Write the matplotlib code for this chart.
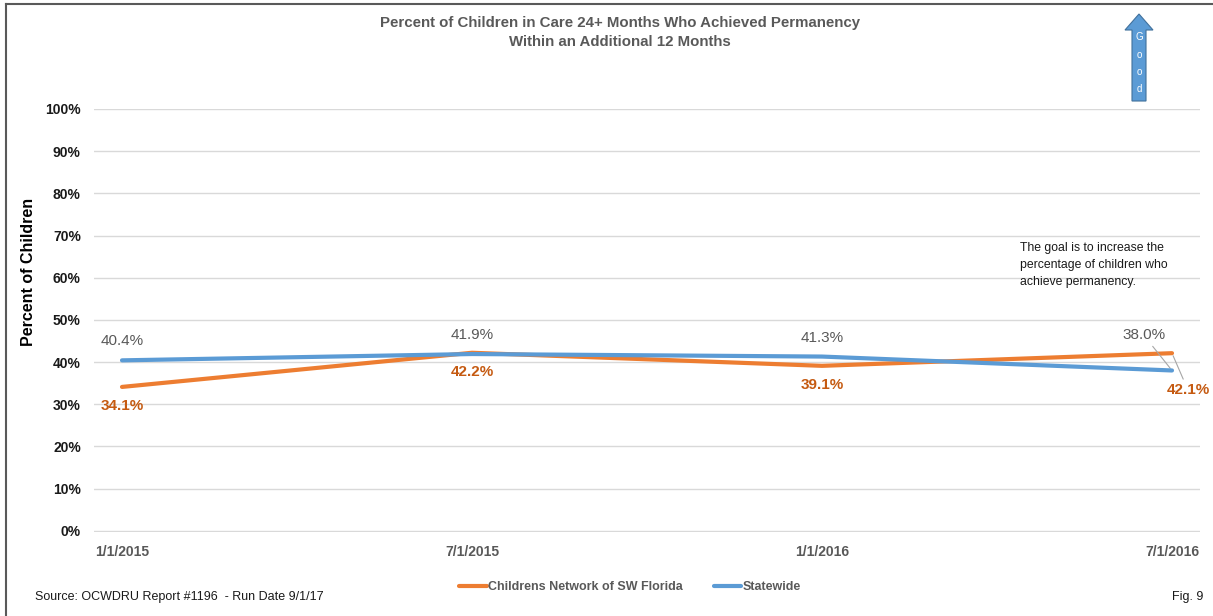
import matplotlib
matplotlib.use("Agg")
import matplotlib.pyplot as plt
from matplotlib.patches import Polygon
from matplotlib.lines import Line2D
from matplotlib.ticker import PercentFormatter

plt.rcParams['font.family'] = ['Liberation Sans', 'DejaVu Sans']

periods = ["1/1/2015", "7/1/2015", "1/1/2016", "7/1/2016"]
swfl = [34.1, 42.2, 39.1, 42.1]
statewide = [40.4, 41.9, 41.3, 38.0]

ORANGE = "#ed7d31"
ORANGE_TXT = "#c55a11"
BLUE = "#5b9bd5"
GREY = "#595959"

W, H = 1213, 616
fig = plt.figure(figsize=(W / 100, H / 100), dpi=100)


def px(x, y):
    return (x / W, 1 - y / H)


ax = fig.add_axes([94 / W, 84 / H, (1200 - 94) / W, (532 - 109) / H])
x = list(range(len(periods)))
ax.plot(x, swfl, color=ORANGE, lw=3, solid_capstyle='round',
        label="Childrens Network of SW Florida", zorder=3)
ax.plot(x, statewide, color=BLUE, lw=3, solid_capstyle='round',
        label="Statewide", zorder=4)

ax.set_xlim(-0.08, 3.08)
ax.set_ylim(-0.3, 100)
ax.set_yticks(range(0, 101, 10))
ax.yaxis.set_major_formatter(PercentFormatter(decimals=0))
ax.set_xticks(x)
ax.set_xticklabels(periods)
ax.grid(axis='y', color="#d9d9d9", lw=1)
ax.set_axisbelow(True)
for s in ax.spines.values():
    s.set_visible(False)
ax.tick_params(length=0)
ax.tick_params(axis='y', pad=9.5, labelsize=10, labelcolor="#1a1a1a")
ax.tick_params(axis='x', pad=9, labelsize=10, labelcolor=GREY)
for lab in ax.get_xticklabels() + ax.get_yticklabels():
    lab.set_fontweight('bold')
ax.set_ylabel("Percent of Children", fontsize=11.5, fontweight='bold')
ax.yaxis.set_label_coords((36 - 94) / (1200 - 94), (532 - 272) / (532 - 109))

# value labels
for i in range(3):
    ax.annotate(f"{statewide[i]:.1f}%", (i, statewide[i]), xytext=(0, 19),
                textcoords='offset pixels', ha='center', va='center',
                fontsize=11, color=GREY)
    ax.annotate(f"{swfl[i]:.1f}%", (i, swfl[i]), xytext=(0, -19),
                textcoords='offset pixels', ha='center', va='center',
                fontsize=11, color=ORANGE_TXT, fontweight='bold')
ax.annotate(f"{statewide[3]:.1f}%", (3, statewide[3]), xytext=(-28, 35),
            textcoords='offset pixels', ha='center', va='center',
            fontsize=11, color=GREY,
            arrowprops=dict(arrowstyle='-', color="#a6a6a6", lw=0.8,
                            shrinkA=1, shrinkB=2))
ax.annotate(f"{swfl[3]:.1f}%", (3, swfl[3]), xytext=(16, -37),
            textcoords='offset pixels', ha='center', va='center',
            fontsize=11, color=ORANGE_TXT, fontweight='bold',
            arrowprops=dict(arrowstyle='-', color="#a6a6a6", lw=0.8,
                            shrinkA=1, shrinkB=2))

fig.text(*px(620, 23), "Percent of Children in Care 24+ Months Who Achieved Permanency",
         ha='center', va='center', fontsize=10.8, fontweight='bold', color=GREY)
fig.text(*px(620, 42), "Within an Additional 12 Months",
         ha='center', va='center', fontsize=10.8, fontweight='bold', color=GREY)

fig.text(*px(1020, 265), "The goal is to increase the\npercentage of children who\nachieve permanency.",
         ha='left', va='center', fontsize=8.8, color="#1a1a1a", linespacing=1.5)

leg = fig.legend(loc='center', bbox_to_anchor=px(630, 587), ncol=2, frameon=False,
                 fontsize=9, handlelength=2.2, handletextpad=0.1, columnspacing=2.5)
for t in leg.get_texts():
    t.set_color(GREY)
    t.set_fontweight('bold')

fig.text(*px(35, 597), "Source: OCWDRU Report #1196  - Run Date 9/1/17",
         ha='left', va='center', fontsize=9, color="#1a1a1a")
fig.text(*px(1172, 597), "Fig. 9", ha='left', va='center', fontsize=9,
         color="#1a1a1a")

# "Good" arrow
arrow = [px(1139, 14), px(1153, 30), px(1146, 30), px(1146, 101),
         px(1132, 101), px(1132, 30), px(1125, 30)]
fig.add_artist(Polygon(arrow, closed=True, transform=fig.transFigure,
                       facecolor=BLUE, edgecolor="#41719c", lw=0.8))
for k, ch in enumerate("Good"):
    fig.text(*px(1139, 37 + k * 17.5), ch, ha='center', va='center',
             fontsize=7, color='white')

# outer frame (top and left)
fig.add_artist(Line2D([px(6, 0)[0], 1], [px(0, 4)[1]] * 2,
                      transform=fig.transFigure, color=GREY, lw=1.5))
fig.add_artist(Line2D([px(6, 0)[0]] * 2, [0, px(0, 4)[1]],
                      transform=fig.transFigure, color=GREY, lw=1.5))

fig.savefig("out.png", dpi=100)
